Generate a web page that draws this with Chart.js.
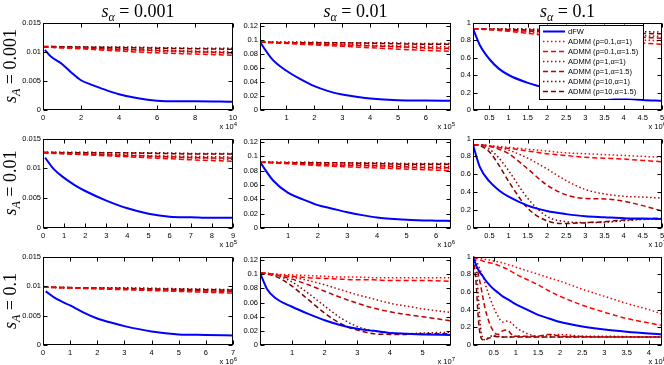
<!DOCTYPE html>
<html>
<head>
<meta charset="utf-8">
<script src="https://cdn.jsdelivr.net/npm/chart.js@4.4.0/dist/chart.umd.min.js"></script>
<style>
  body { margin: 0; background: #fff; }
  #page { position: relative; width: 664px; height: 365px; overflow: hidden; background: #fff; }
  #page canvas { position: absolute; }
  .ttl { position: absolute; font-family: "Liberation Serif", serif; font-size: 18px; white-space: nowrap; color: #000; line-height: 1; }
  .ttl sub { font-size: 12px; vertical-align: -4px; line-height: 0; }
  .exp { position: absolute; font-family: "Liberation Sans", sans-serif; font-size: 7.5px; white-space: nowrap; color: #000; line-height: 1; }
  .exp sup { font-size: 6px; vertical-align: 3px; line-height: 0; }
</style>
</head>
<body>
<div id="page"></div>
<script>
// ---- labels ----
var colValues = ['0.001', '0.01', '0.1'];   // s_alpha
var rowValues = ['0.001', '0.01', '0.1'];   // s_A
var seriesLabels = ['dFW', 'ADMM (\u03c1=0.1,\u03b1=1)', 'ADMM (\u03c1=0.1,\u03b1=1.5)', 'ADMM (\u03c1=1,\u03b1=1)',
                    'ADMM (\u03c1=1,\u03b1=1.5)', 'ADMM (\u03c1=10,\u03b1=1)', 'ADMM (\u03c1=10,\u03b1=1.5)'];
var seriesColors = ['#0000ff', '#ff0000', '#ff0000', '#c00000', '#c00000', '#800000', '#800000'];

// y ticks per column
var yTicks1 = [0, 0.005, 0.01, 0.015];
var yTicks2 = [0, 0.02, 0.04, 0.06, 0.08, 0.1, 0.12];
var yTicks3 = [0, 0.2, 0.4, 0.6, 0.8, 1];

// ---- row 1 (s_A = 0.001) ----
var x11 = [0.1, 0.4, 1, 1.5, 2, 2.5, 3, 4, 5, 6, 7, 8, 10];
var dfw11 = [0.0103, 0.0092, 0.0079, 0.0064, 0.0051, 0.0044, 0.0038, 0.0027, 0.0020, 0.0016, 0.0015, 0.0015, 0.0014];
var ax11 = [0, 2, 4, 6, 8, 10];
var admm11 = [
  [0.0108, 0.0106, 0.0103, 0.0101, 0.0099, 0.0097],
  [0.0108, 0.0105, 0.0101, 0.0098, 0.0096, 0.0094],
  [0.0108, 0.0107, 0.0105, 0.0103, 0.0101, 0.0100],
  [0.0108, 0.0106, 0.0104, 0.0102, 0.0100, 0.0098],
  [0.0109, 0.0108, 0.0108, 0.0107, 0.0106, 0.0106],
  [0.0109, 0.0108, 0.0107, 0.0106, 0.0105, 0.0104]
];
var xTicks11 = [0, 2, 4, 6, 8, 10];

var x12 = [0.05, 0.5, 1, 1.5, 2, 2.5, 3, 3.5, 4, 5, 6, 6.9];
var dfw12 = [0.097, 0.072, 0.056, 0.044, 0.034, 0.027, 0.022, 0.019, 0.0165, 0.014, 0.0135, 0.0133];
var ax12 = [0.05, 1.5, 3, 4.5, 6, 6.9];
var admm12 = [
  [0.097, 0.095, 0.093, 0.091, 0.088, 0.087],
  [0.097, 0.094, 0.091, 0.088, 0.085, 0.084],
  [0.097, 0.096, 0.094, 0.092, 0.091, 0.090],
  [0.097, 0.095, 0.093, 0.091, 0.089, 0.088],
  [0.097, 0.097, 0.096, 0.096, 0.095, 0.095],
  [0.097, 0.096, 0.096, 0.095, 0.094, 0.094]
];
var xTicks12 = [1, 2, 3, 4, 5, 6];

var x13 = [0.07, 0.25, 0.5, 0.75, 1, 1.5, 2, 2.5, 3, 3.5, 4, 4.5, 5];
var dfw13 = [0.93, 0.74, 0.58, 0.47, 0.40, 0.31, 0.25, 0.21, 0.17, 0.15, 0.13, 0.115, 0.105];
var ax13 = [0.07, 1, 2, 3, 4, 5];
var admm13 = [
  [0.93, 0.91, 0.87, 0.84, 0.81, 0.79],
  [0.93, 0.90, 0.85, 0.81, 0.78, 0.75],
  [0.93, 0.92, 0.90, 0.88, 0.86, 0.84],
  [0.93, 0.91, 0.89, 0.86, 0.84, 0.82],
  [0.93, 0.93, 0.92, 0.91, 0.90, 0.89],
  [0.93, 0.92, 0.91, 0.90, 0.88, 0.87]
];
var xTicks13 = [0.5, 1, 1.5, 2, 2.5, 3, 3.5, 4, 4.5, 5];

// ---- row 2 (s_A = 0.01) ----
var x21 = [0.1, 0.5, 1, 1.5, 2, 3, 4, 5, 6, 7, 8, 9];
var dfw21 = [0.0118, 0.0099, 0.0084, 0.0072, 0.0062, 0.0046, 0.0033, 0.0024, 0.0019, 0.0018, 0.0017, 0.0017];
var ax21 = [0, 1.8, 3.6, 5.4, 7.2, 9];
var admm21 = [
  [0.0126, 0.0124, 0.0121, 0.0119, 0.0117, 0.0115],
  [0.0126, 0.0123, 0.0120, 0.0117, 0.0114, 0.0112],
  [0.0126, 0.0125, 0.0123, 0.0121, 0.0120, 0.0119],
  [0.0126, 0.0124, 0.0122, 0.0120, 0.0118, 0.0117],
  [0.0127, 0.0127, 0.0126, 0.0126, 0.0125, 0.0125],
  [0.0127, 0.0126, 0.0126, 0.0125, 0.0124, 0.0124]
];
var xTicks21 = [0, 1, 2, 3, 4, 5, 6, 7, 8, 9];

var x22 = [0.05, 0.5, 1, 1.5, 2, 2.5, 3, 3.5, 4, 5, 6, 6.5];
var dfw22 = [0.092, 0.066, 0.049, 0.040, 0.032, 0.027, 0.022, 0.018, 0.0148, 0.0115, 0.0102, 0.0099];
var ax22 = [0.05, 1.3, 2.6, 3.9, 5.2, 6.5];
var admm22 = [
  [0.092, 0.090, 0.088, 0.086, 0.084, 0.083],
  [0.092, 0.089, 0.086, 0.084, 0.082, 0.080],
  [0.092, 0.091, 0.089, 0.088, 0.087, 0.086],
  [0.092, 0.090, 0.088, 0.087, 0.085, 0.084],
  [0.092, 0.092, 0.091, 0.091, 0.090, 0.090],
  [0.092, 0.091, 0.091, 0.090, 0.089, 0.089]
];
var xTicks22 = [1, 2, 3, 4, 5, 6];

var x23 = [0.07, 0.25, 0.5, 0.75, 1, 1.5, 2, 2.5, 3, 3.5, 4, 4.5, 5];
var dfw23 = [0.93, 0.68, 0.52, 0.42, 0.35, 0.25, 0.19, 0.155, 0.13, 0.12, 0.11, 0.105, 0.10];
var ax23 = x23;
var admm23 = [
  [0.93, 0.925, 0.92, 0.91, 0.90, 0.88, 0.86, 0.84, 0.83, 0.82, 0.81, 0.80, 0.79],
  [0.93, 0.925, 0.915, 0.90, 0.89, 0.86, 0.83, 0.81, 0.79, 0.78, 0.77, 0.755, 0.74],
  [0.93, 0.93, 0.92, 0.90, 0.87, 0.78, 0.66, 0.53, 0.43, 0.38, 0.355, 0.345, 0.335],
  [0.93, 0.93, 0.91, 0.88, 0.83, 0.66, 0.48, 0.37, 0.33, 0.325, 0.30, 0.25, 0.19],
  [0.93, 0.93, 0.88, 0.78, 0.64, 0.33, 0.13, 0.07, 0.06, 0.065, 0.08, 0.095, 0.10],
  [0.93, 0.92, 0.85, 0.70, 0.52, 0.22, 0.08, 0.05, 0.06, 0.07, 0.09, 0.10, 0.11]
];
var xTicks23 = [0.5, 1, 1.5, 2, 2.5, 3, 3.5, 4, 4.5, 5];

// ---- row 3 (s_A = 0.1) ----
var x31 = [0.1, 0.5, 1, 1.5, 2, 2.5, 3, 4, 5, 6, 7];
var dfw31 = [0.0091, 0.0078, 0.0067, 0.0055, 0.0045, 0.0038, 0.0032, 0.0023, 0.0018, 0.0017, 0.0016];
var ax31 = [0, 1.4, 2.8, 4.2, 5.6, 7];
var admm31 = [
  [0.0098, 0.0096, 0.0095, 0.0093, 0.0091, 0.0090],
  [0.0098, 0.0096, 0.0094, 0.0092, 0.0090, 0.0088],
  [0.0098, 0.0097, 0.0096, 0.0094, 0.0093, 0.0092],
  [0.0098, 0.0097, 0.0095, 0.0094, 0.0092, 0.0091],
  [0.0098, 0.0097, 0.0097, 0.0096, 0.0095, 0.0094],
  [0.0098, 0.0097, 0.0096, 0.0095, 0.0094, 0.0093]
];
var xTicks31 = [0, 1, 2, 3, 4, 5, 6, 7];

var x32 = [0.02, 0.25, 0.5, 1, 1.5, 2, 2.5, 3, 3.5, 4, 4.5, 5, 5.87];
var dfw32 = [0.102, 0.078, 0.066, 0.054, 0.044, 0.035, 0.028, 0.023, 0.020, 0.017, 0.016, 0.015, 0.014];
var ax32 = x32;
var admm32 = [
  [0.102, 0.101, 0.100, 0.099, 0.098, 0.097, 0.096, 0.096, 0.095, 0.095, 0.095, 0.095, 0.095],
  [0.102, 0.101, 0.099, 0.097, 0.095, 0.094, 0.093, 0.092, 0.092, 0.091, 0.091, 0.091, 0.090],
  [0.102, 0.101, 0.100, 0.096, 0.091, 0.085, 0.078, 0.071, 0.065, 0.059, 0.055, 0.051, 0.046],
  [0.102, 0.101, 0.099, 0.093, 0.085, 0.076, 0.067, 0.059, 0.052, 0.047, 0.043, 0.040, 0.034],
  [0.102, 0.101, 0.099, 0.089, 0.073, 0.055, 0.038, 0.026, 0.020, 0.017, 0.016, 0.017, 0.018],
  [0.102, 0.100, 0.097, 0.083, 0.064, 0.045, 0.030, 0.021, 0.016, 0.015, 0.015, 0.016, 0.016]
];
var xTicks32 = [1, 2, 3, 4, 5];

var x33 = [0.03, 0.1, 0.15, 0.2, 0.25, 0.3, 0.4, 0.5, 0.6, 0.7, 0.8, 0.9, 1.0, 1.25, 1.5, 1.75, 2, 2.5, 3, 3.5, 4, 4.3];
var dfw33 = [1.0, 0.90, 0.85, 0.81, 0.78, 0.74, 0.68, 0.63, 0.59, 0.55, 0.52, 0.49, 0.46, 0.40, 0.34, 0.30, 0.26, 0.21, 0.175, 0.15, 0.13, 0.12];
var ax33 = x33;
var admm33 = [
  [1.0, 0.99, 0.985, 0.98, 0.975, 0.97, 0.96, 0.95, 0.94, 0.93, 0.91, 0.90, 0.88, 0.84, 0.80, 0.76, 0.72, 0.63, 0.55, 0.47, 0.40, 0.35],
  [1.0, 0.98, 0.97, 0.96, 0.95, 0.94, 0.93, 0.92, 0.90, 0.88, 0.86, 0.83, 0.80, 0.74, 0.68, 0.61, 0.55, 0.45, 0.37, 0.30, 0.25, 0.22],
  [1.0, 0.95, 0.90, 0.84, 0.78, 0.70, 0.55, 0.42, 0.32, 0.26, 0.27, 0.25, 0.20, 0.13, 0.10, 0.11, 0.12, 0.10, 0.10, 0.095, 0.09, 0.09],
  [1.0, 0.90, 0.80, 0.68, 0.55, 0.42, 0.25, 0.15, 0.12, 0.16, 0.17, 0.12, 0.10, 0.10, 0.10, 0.12, 0.10, 0.095, 0.09, 0.09, 0.09, 0.09],
  [1.0, 0.90, 0.55, 0.20, 0.08, 0.06, 0.09, 0.11, 0.10, 0.09, 0.09, 0.09, 0.10, 0.09, 0.09, 0.09, 0.09, 0.09, 0.09, 0.09, 0.09, 0.09],
  [1.0, 0.70, 0.30, 0.10, 0.06, 0.06, 0.08, 0.10, 0.09, 0.09, 0.09, 0.09, 0.09, 0.09, 0.09, 0.09, 0.09, 0.09, 0.09, 0.09, 0.09, 0.09]
];
var xTicks33 = [0.5, 1, 1.5, 2, 2.5, 3, 3.5, 4];

// ---- layout of the 3x3 grid (pixels) ----
var colLeft = [43, 260, 473], colRight = [233, 451, 662];
var rowTop = [22, 138, 256], rowBottom = [110, 228, 345];

var panels = [
  [ {x: x11, dfw: dfw11, ax: ax11, admm: admm11, xt: xTicks11, yt: yTicks1, xr: [0, 10], ymax: 0.015, exp: 4},
    {x: x12, dfw: dfw12, ax: ax12, admm: admm12, xt: xTicks12, yt: yTicks2, xr: [0.05, 6.9], ymax: 0.125, exp: 5},
    {x: x13, dfw: dfw13, ax: ax13, admm: admm13, xt: xTicks13, yt: yTicks3, xr: [0.07, 5], ymax: 1, exp: 6, legend: true} ],
  [ {x: x21, dfw: dfw21, ax: ax21, admm: admm21, xt: xTicks21, yt: yTicks1, xr: [0, 9], ymax: 0.015, exp: 5},
    {x: x22, dfw: dfw22, ax: ax22, admm: admm22, xt: xTicks22, yt: yTicks2, xr: [0.05, 6.5], ymax: 0.125, exp: 6},
    {x: x23, dfw: dfw23, ax: ax23, admm: admm23, xt: xTicks23, yt: yTicks3, xr: [0.07, 5], ymax: 1, exp: 7} ],
  [ {x: x31, dfw: dfw31, ax: ax31, admm: admm31, xt: xTicks31, yt: yTicks1, xr: [0, 7], ymax: 0.015, exp: 6},
    {x: x32, dfw: dfw32, ax: ax32, admm: admm32, xt: xTicks32, yt: yTicks2, xr: [0.02, 5.87], ymax: 0.125, exp: 7},
    {x: x33, dfw: dfw33, ax: ax33, admm: admm33, xt: xTicks33, yt: yTicks3, xr: [0.03, 4.3], ymax: 1, exp: 8} ]
];

var tickFont = {family: '"Liberation Sans", Arial, sans-serif', size: 7.5};
var padL = 40, padT = 6, padR = 10, padB = 16;
var page = document.getElementById('page');

function fmt(v) { return String(+Number(v).toFixed(4)); }

// frame + inward ticks like matplotlib
var framePlugin = {
  id: 'frame',
  afterDraw: function (chart) {
    var ctx = chart.ctx, a = chart.chartArea;
    var xs = chart.scales.x, ys = chart.scales.y;
    var l = Math.round(a.left) + 0.5, r = Math.round(a.right) - 0.5;
    var t = Math.round(a.top) + 0.5, b = Math.round(a.bottom) - 0.5;
    ctx.save();
    ctx.strokeStyle = '#000';
    ctx.lineWidth = 1;
    ctx.beginPath();
    xs.ticks.forEach(function (tk) {
      var px = Math.round(xs.getPixelForValue(tk.value)) + 0.5;
      ctx.moveTo(px, b); ctx.lineTo(px, b - 4);
      ctx.moveTo(px, t); ctx.lineTo(px, t + 4);
    });
    ys.ticks.forEach(function (tk) {
      var py = Math.round(ys.getPixelForValue(tk.value)) + 0.5;
      ctx.moveTo(l, py); ctx.lineTo(l + 4, py);
      ctx.moveTo(r, py); ctx.lineTo(r - 4, py);
    });
    ctx.stroke();
    ctx.strokeRect(l, t, r - l, b - t);
    ctx.restore();

    if (chart.options.plugins.frame && chart.options.plugins.frame.legend) {
      var bl = a.left + 66, bt = a.top + 2, bw = 104, bh = 74;
      ctx.save();
      ctx.fillStyle = '#fff';
      ctx.fillRect(bl, bt, bw, bh);
      ctx.strokeStyle = '#000';
      ctx.strokeRect(Math.round(bl) + 0.5, Math.round(bt) + 0.5, bw, bh);
      ctx.font = '7.5px "Liberation Sans", Arial, sans-serif';
      ctx.textBaseline = 'middle';
      chart.data.datasets.forEach(function (ds, i) {
        var yy = bt + 7 + i * 10;
        ctx.strokeStyle = ds.borderColor;
        ctx.lineWidth = ds.borderWidth;
        ctx.setLineDash(ds.borderDash || []);
        ctx.beginPath();
        ctx.moveTo(bl + 4, yy); ctx.lineTo(bl + 26, yy);
        ctx.stroke();
        ctx.setLineDash([]);
        ctx.fillStyle = '#000';
        ctx.fillText(ds.label, bl + 29, yy);
      });
      ctx.restore();
    }
  }
};

function buildPanel(p, r, c) {
  var L = colLeft[c], R = colRight[c], T = rowTop[r], B = rowBottom[r];
  var cv = document.createElement('canvas');
  var w = (R - L) + padL + padR, h = (B - T) + padT + padB;
  cv.width = w; cv.height = h;
  cv.style.width = w + 'px'; cv.style.height = h + 'px';
  cv.style.left = (L - padL) + 'px'; cv.style.top = (T - padT) + 'px';
  page.appendChild(cv);

  var datasets = [{
    label: seriesLabels[0],
    data: p.x.map(function (x, i) { return {x: x, y: p.dfw[i]}; }),
    borderColor: seriesColors[0], borderWidth: 2, borderDash: []
  }];
  p.admm.forEach(function (ys, k) {
    datasets.push({
      label: seriesLabels[k + 1],
      data: p.ax.map(function (x, i) { return {x: x, y: ys[i]}; }),
      borderColor: seriesColors[k + 1], borderWidth: 1.5,
      borderDash: k % 2 === 0 ? [1.5, 2.5] : [5, 3]
    });
  });

  new Chart(cv, {
    type: 'line',
    data: {datasets: datasets},
    options: {
      responsive: false,
      animation: false,
      layout: {padding: {left: 0, top: padT, right: padR, bottom: 0}},
      elements: {point: {radius: 0}, line: {cubicInterpolationMode: 'monotone', fill: false}},
      plugins: {legend: {display: false}, tooltip: {enabled: false}, frame: {legend: !!p.legend}},
      scales: {
        x: {
          type: 'linear', min: p.xr[0], max: p.xr[1],
          grid: {display: false, drawTicks: false}, border: {display: false},
          afterBuildTicks: function (s) { s.ticks = p.xt.map(function (v) { return {value: v}; }); },
          afterFit: function (s) { s.height = padB; },
          ticks: {font: tickFont, color: '#000', padding: 3, maxRotation: 0, autoSkip: false, callback: fmt}
        },
        y: {
          type: 'linear', min: 0, max: p.ymax,
          grid: {display: false, drawTicks: false}, border: {display: false},
          afterBuildTicks: function (s) { s.ticks = p.yt.map(function (v) { return {value: v}; }); },
          afterFit: function (s) { s.width = padL; },
          ticks: {font: tickFont, color: '#000', padding: 2, autoSkip: false, callback: fmt}
        }
      }
    },
    plugins: [framePlugin]
  });

  // offset multiplier label
  var ex = document.createElement('div');
  ex.className = 'exp';
  ex.innerHTML = 'x 10<sup>' + p.exp + '</sup>';
  ex.style.left = (R + 4) + 'px';
  ex.style.top = (B + 13) + 'px';
  ex.style.transform = 'translateX(-100%)';
  page.appendChild(ex);
}

panels.forEach(function (row, r) {
  row.forEach(function (p, c) { buildPanel(p, r, c); });
});

// column titles and row labels
colValues.forEach(function (v, c) {
  var d = document.createElement('div');
  d.className = 'ttl';
  d.innerHTML = '<i>s</i><sub><i>\u03b1</i></sub> = ' + v;
  d.style.left = ((colLeft[c] + colRight[c]) / 2) + 'px';
  d.style.top = '2px';
  d.style.transform = 'translateX(-50%)';
  page.appendChild(d);
});
rowValues.forEach(function (v, r) {
  var d = document.createElement('div');
  d.className = 'ttl';
  d.innerHTML = '<i>s</i><sub><i>A</i></sub> = ' + v;
  d.style.left = '10px';
  d.style.top = ((rowTop[r] + rowBottom[r]) / 2) + 'px';
  d.style.transform = 'translate(-50%, -50%) rotate(-90deg)';
  page.appendChild(d);
});
</script>
</body>
</html>
